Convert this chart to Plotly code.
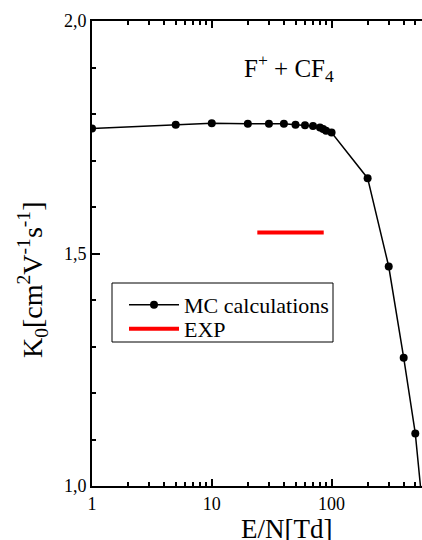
import plotly.graph_objects as go

# Data
mc_x = [1, 5, 10, 20, 30, 40, 50, 60, 70, 80, 85, 90, 100, 200, 300, 400, 500, 600]
mc_y = [1.769, 1.777, 1.780, 1.779, 1.779, 1.779, 1.777, 1.776, 1.774, 1.771, 1.768,
        1.764, 1.760, 1.662, 1.472, 1.276, 1.113, 0.905]
exp_x = [24, 86]
exp_y = [1.545, 1.545]
y_ticks = [1.0, 1.5, 2.0]
y_labels = ["1,0", "1,5", "2,0"]
y_minor = [1.1, 1.2, 1.3, 1.4, 1.6, 1.7, 1.8, 1.9]
x_ticks = [1, 10, 100]
x_labels = ["1", "10", "100"]
x_minor = [2, 3, 4, 5, 6, 7, 8, 9, 20, 30, 40, 50, 60, 70, 80, 90, 200, 300, 400, 500]

FONT = "Liberation Serif"
L, T, B, W = 92, 21, 486, 330  # plot area in px
H = B - T
X_RANGE = [0, 2.755]
Y_RANGE = [1.0, 2.0]


def px_x(p):
    return (p - L) / W


def px_y(p):
    return (B - p) / H


fig = go.Figure()
fig.add_trace(go.Scatter(
    x=mc_x, y=mc_y, mode="lines+markers", name="MC calculations",
    line=dict(color="black", width=1.5),
    marker=dict(color="black", size=8),
    legend="legend",
))
fig.add_trace(go.Scatter(
    x=exp_x, y=exp_y, mode="lines", name="EXP",
    line=dict(color="#ff0000", width=4),
    legend="legend2", xaxis="x2", yaxis="y2",
))

leg_common = dict(
    xanchor="left", yanchor="middle",
    borderwidth=0, bgcolor="rgba(0,0,0,0)",
    font=dict(family=FONT, size=22, color="black"),
    itemwidth=50,
)

fig.update_layout(
    width=422, height=540,
    margin=dict(l=L, r=0, t=T, b=540 - B),
    paper_bgcolor="white", plot_bgcolor="white",
    font=dict(family=FONT, color="black", size=16),
    separators=",.",
    showlegend=True,
    legend=dict(x=px_x(124), y=px_y(305), **leg_common),
    legend2=dict(x=px_x(124), y=px_y(329), **leg_common),
    xaxis=dict(
        type="log", range=X_RANGE,
        showgrid=False, zeroline=False,
        showline=True, linecolor="black", linewidth=2, mirror="ticks",
        ticks="inside", ticklen=7, tickwidth=2, tickcolor="black",
        tickmode="array", tickvals=x_ticks, ticktext=x_labels,
        tickfont=dict(family=FONT, size=18),
    ),
    yaxis=dict(
        range=Y_RANGE,
        showgrid=False, zeroline=False,
        showline=True, linecolor="black", linewidth=2, mirror=False,
        ticks="inside", ticklen=8, tickwidth=2, tickcolor="black",
        tickmode="array", tickvals=y_ticks, ticktext=y_labels,
        tickfont=dict(family=FONT, size=18),
    ),
    xaxis2=dict(
        type="log", range=X_RANGE, overlaying="x", anchor="y2", side="bottom",
        showgrid=False, zeroline=False, showline=False, mirror="ticks",
        ticks="inside", ticklen=4, tickwidth=1.5, tickcolor="black",
        tickmode="array", tickvals=x_minor, showticklabels=False,
    ),
    yaxis2=dict(
        range=Y_RANGE, overlaying="y", anchor="x2", side="left",
        showgrid=False, zeroline=False, showline=False,
        ticks="inside", ticklen=4, tickwidth=1.5, tickcolor="black",
        tickmode="array", tickvals=y_minor, showticklabels=False,
    ),
)

# legend frame
fig.add_shape(type="rect", xref="paper", yref="paper",
              x0=px_x(112), x1=px_x(333), y0=px_y(342), y1=px_y(283),
              line=dict(color="black", width=1), fillcolor="rgba(0,0,0,0)")

fig.add_annotation(
    text="F<sup>+</sup> + CF<sub>4</sub>", xref="paper", yref="paper",
    x=px_x(242), y=px_y(68), xanchor="left", yanchor="middle",
    showarrow=False, font=dict(family=FONT, size=25, color="black"),
)
fig.add_annotation(
    text="E/N[Td]", xref="paper", yref="paper",
    x=px_x(286), y=px_y(529), xanchor="center", yanchor="middle",
    showarrow=False, font=dict(family=FONT, size=27, color="black"),
)
fig.add_annotation(
    text="K<sub>0</sub>[cm<sup>2</sup>V<sup>-1</sup>s<sup>-1</sup>]", xref="paper", yref="paper",
    x=px_x(32), y=px_y(280), xanchor="center", yanchor="middle",
    textangle=-90,
    showarrow=False, font=dict(family=FONT, size=28, color="black"),
)

fig.write_html("out.html")
